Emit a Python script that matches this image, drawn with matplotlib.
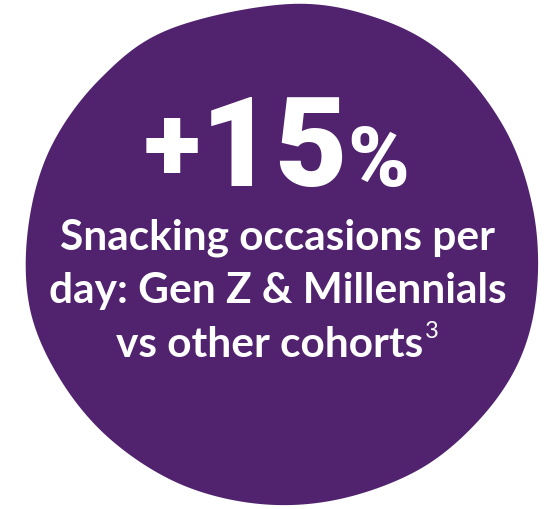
import numpy as np
import matplotlib
matplotlib.use("Agg")
import matplotlib.pyplot as plt
from matplotlib.patches import Polygon

# blob outline (pixel coords, y down)
blob_x = [290, 380, 450, 505, 533, 537, 520, 480, 420, 340, 260, 180, 110, 60, 30, 28, 50, 100, 170]
blob_y = [5, 20, 60, 130, 210, 290, 360, 420, 470, 500, 505, 485, 440, 380, 310, 230, 150, 80, 30]

headline_chars = ["+", "1", "5", "%"]
sub_lines = ["Snacking occasions per", "day: Gen Z & Millennials", "vs other cohorts"]
footnote = "3"

purple = "#51236F"


def catmull(xs, ys, n=20):
    # closed catmull-rom smoothing of the outline
    p = np.column_stack([xs, ys]).astype(float)
    k = len(p)
    out = []
    for i in range(k):
        p0, p1, p2, p3 = p[i - 1], p[i], p[(i + 1) % k], p[(i + 2) % k]
        for t in np.linspace(0, 1, n, endpoint=False):
            t2, t3 = t * t, t * t * t
            out.append(0.5 * ((2 * p1) + (-p0 + p2) * t + (2 * p0 - 5 * p1 + 4 * p2 - p3) * t2
                              + (-p0 + 3 * p1 - 3 * p2 + p3) * t3))
    return np.array(out)


fig = plt.figure(figsize=(5.44, 5.10), dpi=100)
ax = fig.add_axes([0, 0, 1, 1])
ax.set_xlim(0, 544)
ax.set_ylim(510, 0)
ax.axis("off")

ax.add_patch(Polygon(catmull(blob_x, blob_y), closed=True, facecolor=purple, edgecolor="none"))

# headline glyphs set one by one, packed tight like the condensed display face
big = dict(color="white", fontweight=900, family="Roboto", ha="left")
glyph_size = [76, 90, 90, 60]
inv = ax.transData.inverted()
x = 0
glyphs = []
for ch, fs in zip(headline_chars, glyph_size):
    if ch == "+":
        t = ax.text(x, 153, ch, fontsize=fs, va="center", **big)
    else:
        t = ax.text(x, 186, ch, fontsize=fs, va="baseline", **big)
    fig.canvas.draw()
    b = t.get_window_extent().transformed(inv)
    x = b.x1 + 1
    glyphs.append(t)
# center the group on the blob
shift = 277 - x / 2
for t in glyphs:
    t.set_x(t.get_position()[0] + shift)

cx = 278
line_y = [250, 303, 357]
texts = []
for i, (txt, y) in enumerate(zip(sub_lines, line_y)):
    lx = cx - 8 if i == 2 else cx
    texts.append(ax.text(lx, y, txt, color="white", fontsize=30.5, fontweight="bold",
                         family="Lato", ha="center", va="baseline"))

fig.canvas.draw()
bb = texts[2].get_window_extent().transformed(inv)
ax.text(bb.x1 + 1, 338, footnote, color="white", fontsize=17, family="Lato",
        ha="left", va="baseline")

fig.savefig("out.png", dpi=100, facecolor="white")
